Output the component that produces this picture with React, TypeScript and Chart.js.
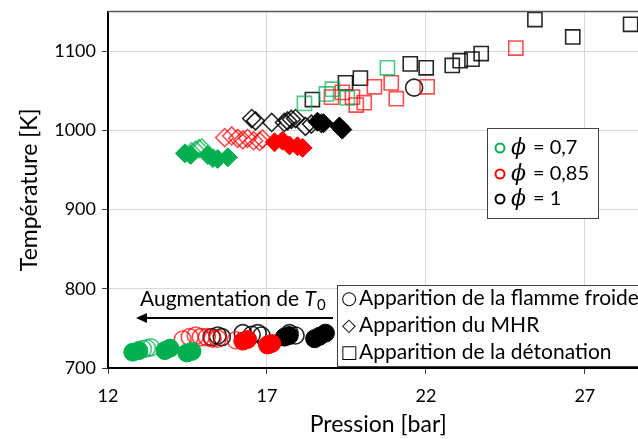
import React, { useEffect, useRef } from 'react';
import { Chart, registerables } from 'chart.js';
Chart.register(...registerables);

const GREEN = '#00B050';
const RED = '#FF0000';
const BLACK = '#000000';
const FONT = 'Lato, Carlito, "Open Sans", sans-serif';

// x tick labels / y tick labels
const X_TICKS = [12, 17, 22, 27];
const Y_TICKS = [700, 800, 900, 1000, 1100];

// Apparition de la flamme froide (circles)
const circGreenFillP = [12.78, 12.97, 13.79, 13.95, 14.48, 14.64];
const circGreenFillT = [720, 722, 722, 725, 719, 721];
const circGreenOpenP = [13.1, 13.22, 13.35];
const circGreenOpenT = [724, 725, 726];
const circRedOpenP = [14.35, 14.57, 14.76, 14.92, 15.11, 15.29, 15.45, 16.02];
const circRedOpenT = [736, 739, 741, 739, 739, 737, 737, 735];
const circRedFillP = [16.24, 16.39, 17.02, 17.15];
const circRedFillT = [734, 736, 729, 731];
const circBlackOpenP = [15.26, 15.45, 15.58, 16.24, 16.52, 16.71, 16.83, 17.71, 17.9, 21.63];
const circBlackOpenT = [739, 741, 739, 744, 742, 744, 741, 744, 741, 1054];
const circBlackFillP = [17.55, 17.7, 18.5, 18.65, 18.84];
const circBlackFillT = [739, 741, 737, 740, 744];

// Apparition du MHR (diamonds)
const diaGreenFillP = [14.42, 14.6, 15.14, 15.3, 15.45, 15.77];
const diaGreenFillT = [971, 969, 969, 965, 964, 966];
const diaGreenOpenP = [14.62, 14.75, 14.86, 14.95];
const diaGreenOpenT = [973, 975, 977, 978];
const diaRedOpenP = [15.67, 15.89, 16.08, 16.24, 16.39, 16.58, 16.77, 16.86];
const diaRedOpenT = [991, 993, 990, 988, 990, 987, 986, 989];
const diaRedFillP = [17.24, 17.49, 17.71, 17.96, 18.12];
const diaRedFillT = [985, 987, 981, 980, 978];
const diaBlackOpenP = [16.52, 16.64, 17.15, 17.55, 17.65, 17.77, 17.9, 18.21, 18.4, 18.71];
const diaBlackOpenT = [1015, 1012, 1010, 1010, 1012, 1014, 1015, 1005, 1008, 1009];
const diaBlackFillP = [18.59, 18.78, 19.28, 19.37];
const diaBlackFillT = [1011, 1009, 1005, 1001];

// Apparition de la détonation (squares)
const sqGreenP = [18.18, 18.87, 19.06, 19.53, 20.79];
const sqGreenT = [1034, 1046, 1052, 1041, 1079];
const sqRedP = [19.03, 19.37, 19.69, 19.81, 20.06, 20.38, 20.91, 21.07, 22.04, 24.83];
const sqRedT = [1042, 1048, 1042, 1032, 1035, 1055, 1060, 1040, 1055, 1104];
const sqBlackP = [18.43, 19.47, 19.94, 21.51, 22.01, 22.83, 23.08, 23.45, 23.74, 25.43, 26.62, 28.44];
const sqBlackT = [1039, 1060, 1066, 1084, 1079, 1082, 1088, 1090, 1097, 1140, 1118, 1134];

const PHI_LABELS = ['0,7', '0,85', '1'];
const PHI_COLORS = [GREEN, RED, BLACK];
const SHAPE_LABELS = ['Apparition de la flamme froide', 'Apparition du MHR', 'Apparition de la détonation'];
const SHAPE_SYMBOLS = ['○', '◇', '□'];

const pts = (p: number[], t: number[]) => p.map((v, i) => ({ x: v, y: t[i] }));

function rgba(hex: string, a: number) {
  const n = parseInt(hex.slice(1), 16);
  return `rgba(${(n >> 16) & 255},${(n >> 8) & 255},${n & 255},${a})`;
}

function ds(p: number[], t: number[], style: string, color: string, filled: boolean, radius: number) {
  return {
    data: pts(p, t),
    pointStyle: style,
    pointRadius: radius,
    pointBorderWidth: filled ? 1 : 1.6,
    pointBackgroundColor: filled ? color : 'transparent',
    pointBorderColor: filled ? color : rgba(color, color === BLACK ? 0.85 : 0.7),
    showLine: false,
  };
}

const overlay = {
  id: 'overlay',
  afterDraw(chart: any) {
    const { ctx, chartArea: a } = chart;
    ctx.save();
    // top border
    ctx.strokeStyle = '#595959';
    ctx.lineWidth = 1.5;
    ctx.beginPath();
    ctx.moveTo(a.left, a.top);
    ctx.lineTo(a.right, a.top);
    ctx.stroke();

    // phi legend
    const L1 = { x: 487.5, y: 128.5, w: 111, h: 90 };
    ctx.fillStyle = '#fff';
    ctx.fillRect(L1.x, L1.y, L1.w, L1.h);
    ctx.strokeStyle = '#404040';
    ctx.lineWidth = 1;
    ctx.strokeRect(L1.x, L1.y, L1.w, L1.h);
    const rows = [148, 174, 199];
    ctx.textBaseline = 'middle';
    rows.forEach((yy, i) => {
      ctx.beginPath();
      ctx.strokeStyle = PHI_COLORS[i];
      ctx.lineWidth = 2;
      ctx.arc(500, yy, 4.5, 0, Math.PI * 2);
      ctx.stroke();
      ctx.fillStyle = '#000';
      ctx.font = `italic 22px "DejaVu Serif", serif`;
      ctx.textAlign = 'left';
      ctx.fillText('ϕ', 511, yy);
      ctx.font = `20px ${FONT}`;
      ctx.fillText('= ' + PHI_LABELS[i], 533, yy);
    });

    // shape legend
    const L2 = { x: 337.5, y: 285.5, w: 320, h: 81 };
    ctx.fillStyle = '#fff';
    ctx.fillRect(L2.x, L2.y, L2.w, L2.h);
    ctx.strokeStyle = '#404040';
    ctx.lineWidth = 1;
    ctx.strokeRect(L2.x, L2.y, L2.w, L2.h);
    const rows2 = [298, 325, 352];
    rows2.forEach((yy, i) => {
      ctx.fillStyle = '#000';
      ctx.font = `18px "DejaVu Sans", sans-serif`;
      ctx.textAlign = 'center';
      ctx.fillText(SHAPE_SYMBOLS[i], 349, yy + 1);
      ctx.textAlign = 'left';
      ctx.font = `21px ${FONT}`;
      ctx.fillText(SHAPE_LABELS[i], 359, yy);
    });

    // annotation
    ctx.fillStyle = '#000';
    ctx.textAlign = 'left';
    ctx.font = `21px ${FONT}`;
    const txt = 'Augmentation de ';
    ctx.fillText(txt, 140, 299);
    const w = ctx.measureText(txt).width;
    ctx.font = `italic 21px ${FONT}`;
    ctx.fillText('T', 140 + w, 299);
    const wt = ctx.measureText('T').width;
    ctx.font = `15px ${FONT}`;
    ctx.fillText('0', 140 + w + wt + 1, 305);

    ctx.strokeStyle = '#000';
    ctx.lineWidth = 2;
    ctx.beginPath();
    ctx.moveTo(333, 318);
    ctx.lineTo(144, 318);
    ctx.stroke();
    ctx.beginPath();
    ctx.moveTo(136, 318);
    ctx.lineTo(147, 313);
    ctx.lineTo(147, 323);
    ctx.closePath();
    ctx.fill();
    ctx.restore();
  },
};

export default function App() {
  const ref = useRef<HTMLCanvasElement>(null);
  useEffect(() => {
    if (!ref.current) return;
    const chart = new Chart(ref.current, {
      type: 'scatter',
      data: {
        datasets: [
          ds(sqGreenP, sqGreenT, 'rect', GREEN, false, 10),
          ds(sqRedP, sqRedT, 'rect', RED, false, 10),
          ds(sqBlackP, sqBlackT, 'rect', BLACK, false, 10),
          ds(diaGreenOpenP, diaGreenOpenT, 'rectRot', GREEN, false, 9),
          ds(diaGreenFillP, diaGreenFillT, 'rectRot', GREEN, true, 9.5),
          ds(diaRedOpenP, diaRedOpenT, 'rectRot', RED, false, 9),
          ds(diaRedFillP, diaRedFillT, 'rectRot', RED, true, 9.5),
          ds(diaBlackOpenP, diaBlackOpenT, 'rectRot', BLACK, false, 9),
          ds(diaBlackFillP, diaBlackFillT, 'rectRot', BLACK, true, 9.5),
          ds(circGreenOpenP, circGreenOpenT, 'circle', GREEN, false, 8.5),
          ds(circGreenFillP, circGreenFillT, 'circle', GREEN, true, 9),
          ds(circRedOpenP, circRedOpenT, 'circle', RED, false, 8.5),
          ds(circRedFillP, circRedFillT, 'circle', RED, true, 9),
          ds(circBlackOpenP, circBlackOpenT, 'circle', BLACK, false, 8.5),
          ds(circBlackFillP, circBlackFillT, 'circle', BLACK, true, 9),
        ] as any,
      },
      options: {
        animation: false,
        responsive: false,
        maintainAspectRatio: false,
        layout: { padding: { left: 0, right: 10, top: 8, bottom: 0 } },
        plugins: { legend: { display: false }, tooltip: { enabled: false } },
        scales: {
          x: {
            type: 'linear',
            min: 12,
            max: 29,
            afterBuildTicks: (ax: any) => {
              ax.ticks = X_TICKS.map((v) => ({ value: v }));
            },
            afterFit: (ax: any) => {
              ax.height = 71;
              ax.paddingLeft = 0;
              ax.paddingRight = 0;
            },
            ticks: { color: '#000', font: { family: FONT, size: 18 }, padding: 11, callback: (v: any) => String(v) },
            grid: { color: '#d9d9d9', tickColor: '#404040', tickLength: 6, lineWidth: 1 },
            border: { color: '#000', width: 2 },
            title: {
              display: true,
              text: 'Pression [bar]',
              color: '#000',
              font: { family: FONT, size: 23 },
              padding: { top: 0, bottom: 1 },
            },
          },
          y: {
            type: 'linear',
            min: 700,
            max: 1150,
            afterBuildTicks: (ax: any) => {
              ax.ticks = Y_TICKS.map((v) => ({ value: v }));
            },
            afterFit: (ax: any) => {
              ax.width = 108;
              ax.paddingTop = 0;
              ax.paddingBottom = 0;
            },
            ticks: { color: '#000', font: { family: FONT, size: 18 }, padding: 6, callback: (v: any) => String(v) },
            grid: { color: '#d9d9d9', tickColor: '#404040', tickLength: 6, lineWidth: 1 },
            border: { color: '#000', width: 2 },
            title: {
              display: true,
              text: 'Température [K]',
              color: '#000',
              font: { family: FONT, size: 23 },
              padding: { top: 16, bottom: 0 },
            },
          },
        },
      } as any,
      plugins: [overlay],
    });
    return () => chart.destroy();
  }, []);

  return (
    <div style={{ position: 'absolute', left: 0, top: 0, width: 638, height: 439, overflow: 'hidden', background: '#fff' }}>
      <canvas ref={ref} width={660} height={439} style={{ width: 660, height: 439, display: 'block' }} />
    </div>
  );
}
